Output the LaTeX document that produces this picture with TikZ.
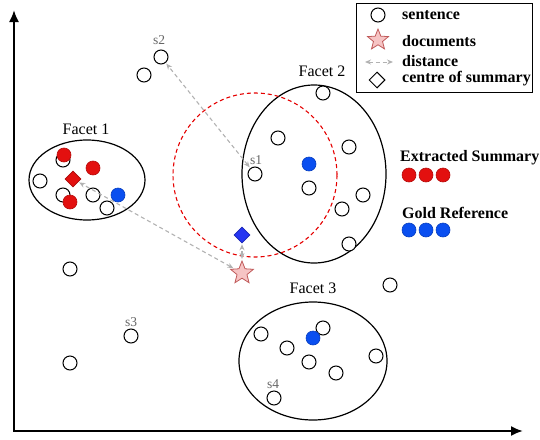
\documentclass[tikz,border=0pt]{standalone}
\usepackage{fontspec}
\setmainfont{Liberation Serif}
\usetikzlibrary{shapes.geometric,arrows.meta}
\definecolor{dotred}{HTML}{E3100F}
\definecolor{dotblue}{HTML}{0A4FF0}
\definecolor{diablue}{HTML}{2536F2}
\definecolor{starfill}{HTML}{F6C4C4}
\definecolor{stardraw}{HTML}{C05A5A}
\tikzset{
  sent/.style={circle,draw=black,line width=1pt,fill=white,minimum size=14pt,inner sep=0pt},
  redpt/.style={circle,draw=dotred!80!black,line width=0.6pt,fill=dotred,minimum size=14pt,inner sep=0pt},
  bluept/.style={circle,draw=dotblue!80!black,line width=0.6pt,fill=dotblue,minimum size=14pt,inner sep=0pt},
  facet/.style={ellipse,draw=black,line width=1.2pt,inner sep=0pt},
  doc/.style={star,star points=5,star point ratio=2.3,draw=stardraw,fill=starfill,line width=0.8pt,minimum size=24pt,inner sep=0pt},
  centre/.style={diamond,draw=#1!75!black,fill=#1,line width=0.6pt,minimum size=16pt,inner sep=0pt},
  dist/.style={{Stealth[length=6pt,width=5pt]}-{Stealth[length=6pt,width=5pt]},gray!60,dashed,dash pattern=on 4pt off 3pt,line width=1.1pt,shorten <=1pt,shorten >=1pt},
  flabel/.style={font=\fontsize{16}{18}\selectfont},
  slabel/.style={font=\fontsize{13.5}{15}\selectfont,text=gray!80!black,inner sep=0pt},
  legtext/.style={font=\bfseries\fontsize{16}{18}\selectfont,anchor=west,inner sep=0pt},
  axis/.style={line width=2pt,-{Latex[length=12pt,width=10pt]}}
}
\begin{document}
\begin{tikzpicture}[x=1pt,y=-1pt]
\useasboundingbox (0,0) rectangle (540,439);

% axes
\coordinate (origin) at (14,431);
\coordinate (ytop) at (14,10);
\coordinate (xend) at (523,431);
\draw[axis] (origin) -- (ytop);
\draw[axis] ([xshift=-1pt]origin) -- (xend);

% facets
\node[facet,minimum width=116pt,minimum height=80pt] (f1) at (87,180) {};
\node[flabel] (f1l) at (86,129) {Facet 1};
\node[facet,minimum width=144pt,minimum height=178pt] (f2) at (314,174) {};
\node[flabel] (f2l) at (322,71) {Facet 2};
\node[facet,minimum width=148pt,minimum height=118pt] (f3) at (313,361) {};
\node[flabel] (f3l) at (313,288) {Facet 3};

% summary radius
\node[circle,draw=red!90!black,dashed,dash pattern=on 4pt off 3pt,line width=1.1pt,minimum size=164pt,inner sep=0pt] (rad) at (255,175) {};

% facet 1 sentences
\node[sent] (a1) at (63,160) {};
\node[redpt] (r1) at (64,155) {};
\node[redpt] (r2) at (93,168) {};
\node[sent] (a2) at (40,181) {};
\node[sent] (a3) at (63,195) {};
\node[redpt] (r3) at (70,202) {};
\node[sent] (a4) at (93,195) {};
\node[sent] (a5) at (107,208) {};
\node[bluept] (b1) at (118,195) {};
\node[centre=dotred] (dred) at (73,179) {};

% loose sentences
\node[sent] (s2) at (161,57) {};
\node[slabel] (s2l) at (159,40) {s2};
\node[sent] (a6) at (144,75) {};
\node[sent] (a7) at (70,269) {};
\node[sent] (s3) at (131,336) {};
\node[slabel] (s3l) at (131,322) {s3};
\node[sent] (a8) at (70,363) {};
\node[sent] (a9) at (390,285) {};

% facet 2 sentences
\node[sent] (c1) at (323,93) {};
\node[sent] (c2) at (278,138) {};
\node[sent] (c3) at (349,147) {};
\node[sent] (s1) at (255,174) {};
\node[slabel] (s1l) at (256,160) {s1};
\node[bluept] (b2) at (309,164) {};
\node[sent] (c4) at (309,188) {};
\node[sent] (c5) at (363,195) {};
\node[sent] (c6) at (342,209) {};
\node[sent] (c7) at (349,244) {};

% facet 3 sentences
\node[sent] (d1) at (261,334) {};
\node[sent] (d2) at (323,328) {};
\node[bluept] (b3) at (313,338) {};
\node[sent] (d3) at (287,348) {};
\node[sent] (d4) at (309,362) {};
\node[sent] (d5) at (336,373) {};
\node[sent] (d6) at (376,356) {};
\node[sent] (s4) at (274,398) {};
\node[slabel] (s4l) at (273,384) {s4};

% documents and centre of the summary
\node[centre=diablue] (dblue) at (242,235) {};
\node[doc] (docs) at (242,273) {};

% distances
\draw[dist] (s1) -- (s2);
\draw[dist] (docs) -- (dred);
\draw[dist] (docs) -- (dblue);

% summary colour keys
\node[legtext] (ext) at (400,158) {Extracted Summary};
\node[redpt] (e1) at (409,175) {};
\node[redpt] (e2) at (426,175) {};
\node[redpt] (e3) at (443,175) {};
\node[legtext] (gold) at (402,213) {Gold Reference};
\node[bluept] (g1) at (409,230) {};
\node[bluept] (g2) at (426,230) {};
\node[bluept] (g3) at (443,230) {};

% legend
\node[draw=black,line width=1pt,minimum width=176pt,minimum height=89pt,inner sep=0pt] (leg) at (444,47.5) {};
\node[sent] (lsent) at (378,15) {};
\node[legtext] (lsentt) at (402,15) {sentence};
\node[doc,minimum size=22pt] (ldoc) at (378,40) {};
\node[legtext] (ldoct) at (402,41) {documents};
\coordinate (ldl) at (364,62);
\coordinate (ldr) at (394,62);
\draw[dist,line width=0.9pt] (ldl) -- (ldr);
\node[legtext] (ldist) at (402,61) {distance};
\node[diamond,draw=black,line width=1pt,fill=white,minimum size=16pt,inner sep=0pt] (ldia) at (377,80) {};
\node[legtext] (ldiat) at (402,79) {centre of summary};
\end{tikzpicture}
\end{document}
